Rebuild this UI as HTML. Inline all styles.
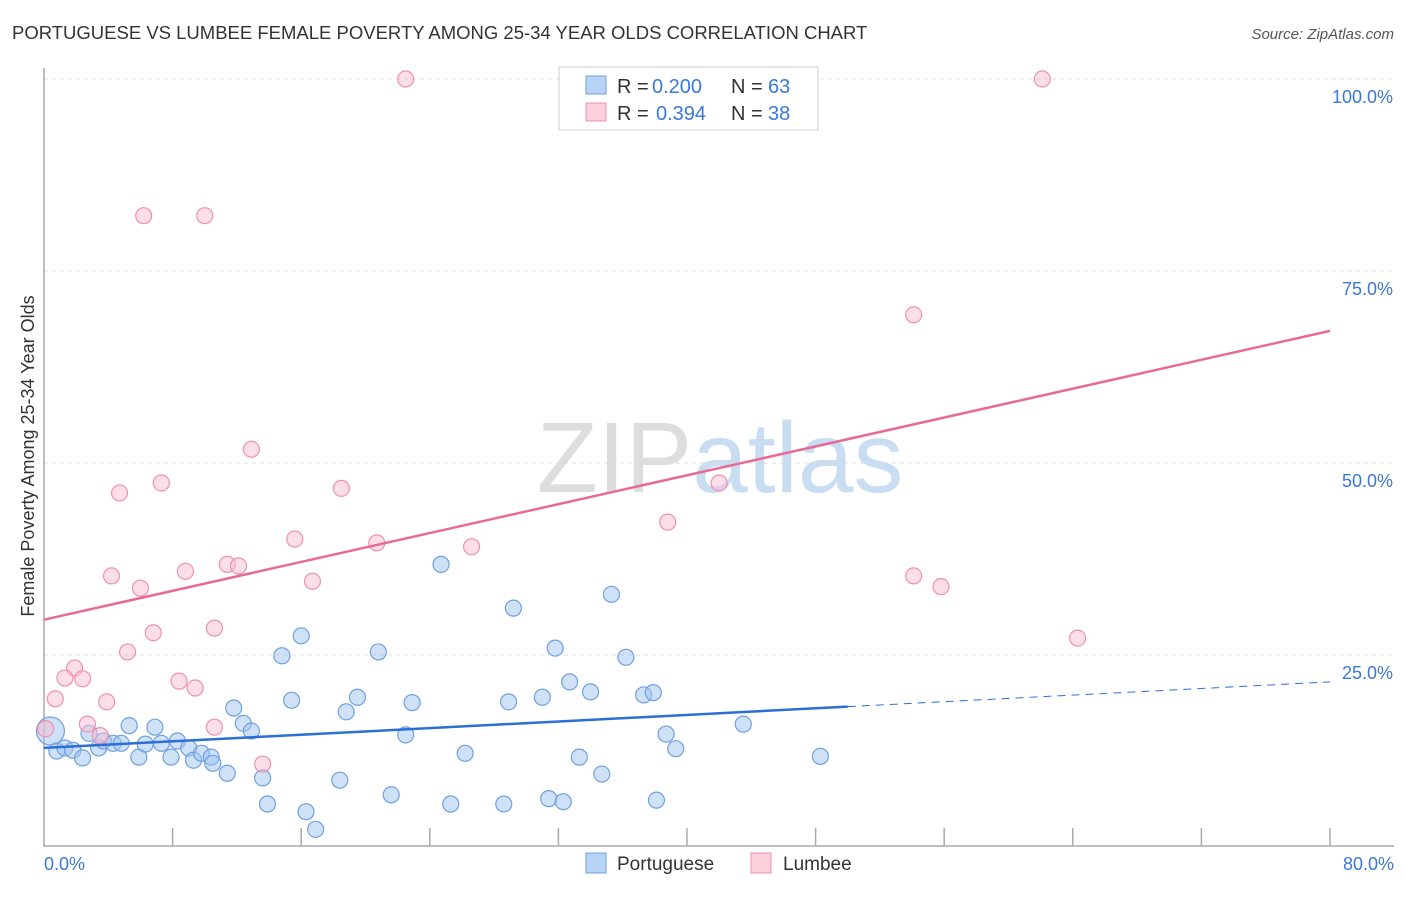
<!DOCTYPE html>
<html><head><meta charset="utf-8"><style>
body{margin:0;background:#fff;font-family:"Liberation Sans",sans-serif;}
svg text{font-family:"Liberation Sans",sans-serif;}
</style></head><body>
<svg id="chart" width="1406" height="892" xmlns="http://www.w3.org/2000/svg">
<text x="12" y="39" font-size="18.5" fill="#333">PORTUGUESE VS LUMBEE FEMALE POVERTY AMONG 25-34 YEAR OLDS CORRELATION CHART</text>
<text x="1394" y="39" font-size="15" fill="#555" text-anchor="end" font-style="italic">Source: ZipAtlas.com</text>
<text x="720" y="492" font-size="100" fill="#ddd" text-anchor="middle" font-family="Liberation Serif">ZIP<tspan fill="#c8dcf2" font-family="Liberation Sans">atlas</tspan></text>
<g id="grid"></g>
<g id="axes"></g>
<g id="marks"></g>
<text transform="translate(34,456) rotate(-90)" font-size="18" fill="#333" text-anchor="middle">Female Poverty Among 25-34 Year Olds</text>
<g>
<rect x="559" y="67" width="259" height="63" fill="#fff" stroke="#ccc"/>
<rect x="586" y="76" width="20" height="18" fill="#b8d4f4" stroke="#6fa0e0"/>
<rect x="586" y="103" width="20" height="18" fill="#fbd0dc" stroke="#f090b0"/>
<text x="617" y="93" font-size="20" fill="#333">R =</text>
<text x="652" y="93" font-size="20" fill="#3a78d8">0.200</text>
<text x="731" y="93" font-size="20" fill="#333">N =</text>
<text x="768" y="93" font-size="20" fill="#3a78d8">63</text>
<text x="617" y="120" font-size="20" fill="#333">R =</text>
<text x="656" y="120" font-size="20" fill="#3a78d8">0.394</text>
<text x="731" y="120" font-size="20" fill="#333">N =</text>
<text x="768" y="120" font-size="20" fill="#3a78d8">38</text>
</g>
<g>
<rect x="586" y="853" width="20" height="20" fill="#b8d4f4" stroke="#6fa0e0"/>
<text x="617" y="870" font-size="19" fill="#333">Portuguese</text>
<rect x="751" y="853" width="20" height="20" fill="#fbd0dc" stroke="#f090b0"/>
<text x="783" y="870" font-size="19" fill="#333">Lumbee</text>
</g>
</svg>
<script>
const blueX=[0.4,0.8,1.3,1.8,2.4,2.8,3.4,3.7,4.3,4.8,5.3,5.9,6.3,6.9,7.3,7.9,8.3,9.0,9.3,9.8,10.4,10.5,11.4,11.8,12.4,12.9,13.6,13.9,14.8,15.4,16.0,16.3,16.9,18.4,18.8,19.5,20.8,21.6,22.5,22.9,24.7,25.3,26.2,28.6,28.9,29.2,31.0,31.4,31.8,32.3,32.7,33.3,34.0,34.7,35.3,36.2,37.3,37.9,38.1,38.7,39.3,43.5,48.3];
const blueY=[15.1,12.5,12.9,12.6,11.6,14.8,12.9,13.8,13.5,13.5,15.8,11.7,13.4,15.6,13.5,11.7,13.8,12.9,11.3,12.2,11.7,10.9,9.6,18.1,16.1,15.1,9.0,5.6,24.9,19.1,27.5,4.6,2.3,8.7,17.6,19.5,25.4,6.8,14.6,18.8,36.8,5.6,12.2,5.6,18.9,31.1,19.5,6.3,25.9,5.9,21.5,11.7,20.2,9.5,32.9,24.7,19.8,20.1,6.1,14.7,12.8,16.0,11.8];
const pinkX=[22.5,62.1,6.2,10.0,54.1,12.9,7.3,18.5,4.7,42.0,38.8,15.6,20.7,26.6,4.2,8.8,11.4,12.1,16.7,6.0,54.1,55.8,6.8,10.6,64.3,5.2,1.9,1.3,2.4,0.7,3.9,8.4,9.4,2.7,10.6,3.5,13.6,0.1];
const pinkY=[100,100,82.2,82.2,69.3,51.8,47.4,46.7,46.1,47.4,42.3,40.1,39.6,39.1,35.3,35.9,36.8,36.6,34.6,33.7,35.3,33.9,27.9,28.5,27.2,25.4,23.3,22.0,21.9,19.3,18.9,21.6,20.7,16.0,15.6,14.5,10.8,15.4];
const blueTrend=[12.9,21.5];
const pinkTrend=[29.6,67.2];
const yTicks=[25,50,75,100];
const yTickLabels=["25.0%","50.0%","75.0%","100.0%"];
const xTickLabels=["0.0%","80.0%"];
const NS="http://www.w3.org/2000/svg";
const sx=v=>44+v*1286/80, sy=v=>847-v*7.68;
function mk(t,a,p){const e=document.createElementNS(NS,t);for(const k in a)e.setAttribute(k,a[k]);p.appendChild(e);return e;}
const grid=document.getElementById('grid'),axes=document.getElementById('axes'),marks=document.getElementById('marks');
yTicks.forEach((t,i)=>{
 const l=mk('line',{x1:44,x2:1394,y1:sy(t),y2:sy(t),stroke:'#ddd','stroke-dasharray':'4,4'},grid);
 
 
 const tx=mk('text',{x:1393,y:sy(t)+24,'font-size':18,fill:'#3a78d8','text-anchor':'end'},axes);tx.textContent=yTickLabels[i];
 
 
});
const a1=mk('line',{x1:44,x2:44,y1:68,y2:847,stroke:'#aaa','stroke-width':1.5},axes);


const a2=mk('line',{x1:44,x2:1394,y1:846,y2:846,stroke:'#aaa','stroke-width':1.5},axes);


for(let v=8;v<=80;v+=8){const t=mk('line',{x1:sx(v),x2:sx(v),y1:828,y2:846,stroke:'#aaa','stroke-width':1.5},axes);
 
 }
[[0,'start',44],[80,'end',1394]].forEach((d,i)=>{const t=mk('text',{x:d[2],y:870,'font-size':18,fill:'#3a78d8','text-anchor':d[1]},axes);t.textContent=xTickLabels[i];
 
 });
blueX.forEach((x,i)=>{const c=mk('circle',{cx:sx(x),cy:sy(blueY[i]),r:i==0?14:8,fill:'rgba(160,196,240,0.5)',stroke:'#6fa0e0','stroke-width':1.2},marks);
 
 });
pinkX.forEach((x,i)=>{const c=mk('circle',{cx:sx(x),cy:sy(pinkY[i]),r:8,fill:'rgba(248,190,208,0.5)',stroke:'#f090b0','stroke-width':1.2},marks);
 
 });
const bAt=x=>blueTrend[0]+(blueTrend[1]-blueTrend[0])*x/80;
const b1=mk('line',{x1:sx(0),y1:sy(bAt(0)),x2:sx(50),y2:sy(bAt(50)),stroke:'#2a6fd6','stroke-width':2.5},marks);


const b2=mk('line',{x1:sx(50),y1:sy(bAt(50)),x2:sx(80),y2:sy(bAt(80)),stroke:'#2a6fd6','stroke-width':1,'stroke-dasharray':'8,6'},marks);


const p1=mk('line',{x1:sx(0),y1:sy(pinkTrend[0]),x2:sx(80),y2:sy(pinkTrend[1]),stroke:'#e86a94','stroke-width':2.5},marks);


</script>
</body></html>
